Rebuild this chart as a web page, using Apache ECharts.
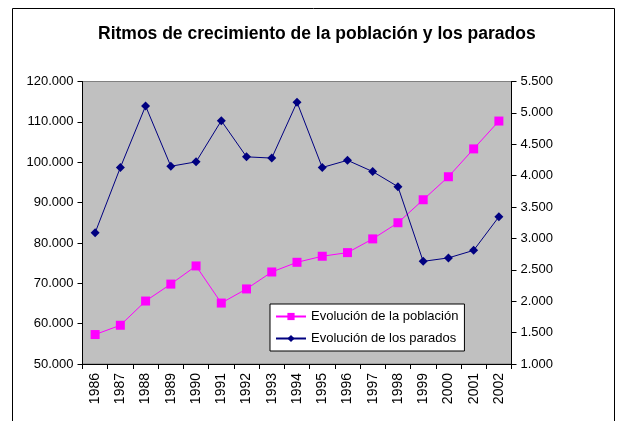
<!DOCTYPE html>
<html>
<head>
<meta charset="utf-8">
<style>html,body{margin:0;padding:0;background:#fff;}#c{width:619px;height:421px;}</style>
<script src="https://cdn.jsdelivr.net/npm/echarts@6/dist/echarts.min.js"></script>
</head>
<body>
<div id="c"></div>
<script>
const titleText = 'Ritmos de crecimiento de la población y los parados';
const years = ['1986','1987','1988','1989','1990','1991','1992','1993','1994','1995','1996','1997','1998','1999','2000','2001','2002'];
const poblacionName = 'Evolución de la población';
const paradosName = 'Evolución de los parados';
const poblacion = [57300, 59600, 65600, 69800, 74300, 65100, 68600, 72800, 75200, 76700, 77600, 81000, 85000, 90700, 96400, 103300, 110200];
const parados = [3090, 4130, 5110, 4150, 4220, 4875, 4300, 4280, 5170, 4130, 4245, 4065, 3825, 2635, 2690, 2810, 3345];

function fmt(v){
  const s = String(Math.round(v));
  return s.replace(/\B(?=(\d{3})+(?!\d))/g, '.');
}
const font = '"Liberation Sans", Arial, sans-serif';
const chart = echarts.init(document.getElementById('c'), null, {renderer:'canvas'});
chart.setOption({
  animation:false,
  backgroundColor:'#fff',
  graphic:[{type:'rect', shape:{x:12.5,y:8.5,width:602,height:430}, style:{fill:'none', stroke:'#000', lineWidth:1}, silent:true, z:-1}],
  title:{text:titleText, left:93, top:20, padding:[5,5,5,5], textStyle:{fontFamily:font, fontSize:17.5, fontWeight:'bold', color:'#000'}},
  grid:{left:82.5, right:107.5, top:81.5, bottom:57, show:true, backgroundColor:'#C0C0C0', borderColor:'#808080', borderWidth:1},
  legend:{
    orient:'vertical', left:270, top:304, itemWidth:30, itemHeight:9, itemGap:9,
    padding:[6,6,6,5], backgroundColor:'#fff', borderColor:'#000', borderWidth:1,
    textStyle:{fontFamily:font, fontSize:13, color:'#000'},
    data:[poblacionName, paradosName]
  },
  xAxis:{
    type:'category', data:years, boundaryGap:true,
    axisLine:{lineStyle:{color:'#000', width:1}},
    axisTick:{show:true, inside:false, length:5, alignWithLabel:false, lineStyle:{color:'#000'}},
    axisLabel:{rotate:90, margin:9, fontFamily:font, fontSize:14, color:'#000', interval:0},
    splitLine:{show:false}
  },
  yAxis:[
    {type:'value', min:50000, max:120000, interval:10000, position:'left',
     axisLine:{show:true, lineStyle:{color:'#000'}},
     axisTick:{show:true, length:5, lineStyle:{color:'#000'}},
     axisLabel:{formatter:fmt, margin:9, fontFamily:font, fontSize:13, color:'#000'},
     splitLine:{show:false}},
    {type:'value', min:1000, max:5500, interval:500, position:'right',
     axisLine:{show:true, lineStyle:{color:'#000'}},
     axisTick:{show:true, length:5, lineStyle:{color:'#000'}},
     axisLabel:{formatter:fmt, margin:9, fontFamily:font, fontSize:13, color:'#000'},
     splitLine:{show:false}}
  ],
  series:[
    {name:poblacionName, type:'line', yAxisIndex:0, data:poblacion, symbol:'rect', symbolSize:9,
     lineStyle:{color:'#FF00FF', width:1}, itemStyle:{color:'#FF00FF'}},
    {name:paradosName, type:'line', yAxisIndex:1, data:parados, symbol:'diamond', symbolSize:9,
     lineStyle:{color:'#000080', width:1}, itemStyle:{color:'#000080'}}
  ]
});
</script>
</body>
</html>
